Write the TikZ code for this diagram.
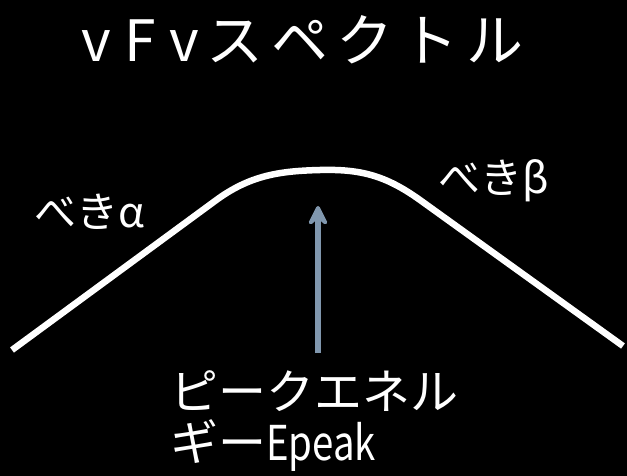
\documentclass[tikz,border=0pt]{standalone}
\usepackage{fontspec}
\setmainfont{Noto Sans CJK JP}
\usetikzlibrary{arrows.meta}
\definecolor{arrowblue}{RGB}{128,151,174}
\newcommand{\lchar}[1]{\makebox[44pt]{#1}}
\newcommand{\kchar}[1]{\makebox[65pt][l]{#1}}
\tikzset{
  lbl/.style={text=white, inner sep=0pt, font=\fontsize{42}{46}\selectfont},
  spectrum/.style={draw=white, line width=6.5pt, line join=round},
  peakarrow/.style={draw=arrowblue, line width=6pt, -{Stealth[length=26pt,width=26pt,inset=11pt,round]}}
}
\begin{document}
\begin{tikzpicture}[x=1pt,y=-1pt]
\fill[black] (0,0) rectangle (627,476);
\useasboundingbox (0,0) rectangle (627,476);
\node[text=white, inner sep=0pt, anchor=base west, font=\fontsize{57}{60}\selectfont] (title) at (74,62)
  {\lchar{v}\lchar{F}\lchar{v}\kchar{ス}\kchar{ペ}\kchar{ク}\kchar{ト}\makebox[57pt][l]{ル}};
\coordinate (s0) at (12,350);
\coordinate (s1) at (215,201);
\coordinate (top) at (320,170);
\coordinate (s2) at (420,200);
\coordinate (s3) at (623,346);
\draw[spectrum] (s0) -- (s1) .. controls (250,175) and (280,171) .. (top)
  .. controls (360,169) and (385,175) .. (s2) -- (s3);
\coordinate (abot) at (318,353);
\coordinate (atip) at (318,206);
\draw[peakarrow] (abot) -- (atip);
\node[lbl] (alpha) at (90,212) {べきα};
\node[lbl] (beta) at (494,181) {べきβ};
\node[text=white, inner sep=0pt, anchor=north west, align=left,
  font=\fontsize{48}{51}\selectfont] (epeak) at (170,370)
  {ピークエネル\\ギー\scalebox{0.8}[1]{Epeak}};
\end{tikzpicture}
\end{document}
